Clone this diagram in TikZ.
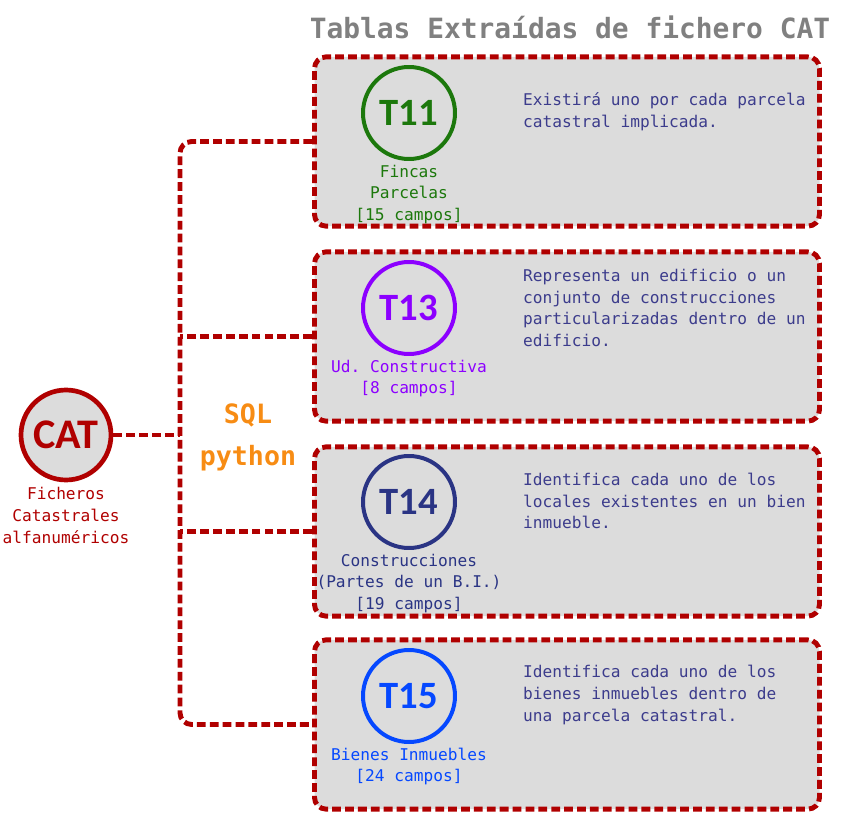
\documentclass[tikz,border=0pt]{standalone}
\usepackage{fontspec}
\setmonofont{DejaVu Sans Mono}
\newfontfamily\carlito{Carlito}
\usetikzlibrary{positioning}

\definecolor{catred}{RGB}{176,0,0}
\definecolor{boxgray}{RGB}{220,220,220}
\definecolor{titlegray}{RGB}{128,128,128}
\definecolor{desctext}{RGB}{60,60,140}
\definecolor{sqlorange}{RGB}{247,140,20}
\definecolor{tgreen}{RGB}{28,120,12}
\definecolor{tpurple}{RGB}{140,0,255}
\definecolor{tnavy}{RGB}{42,52,132}
\definecolor{tblue}{RGB}{5,72,255}

\tikzset{
  link/.style={draw=catred, line width=4.2pt, dash pattern=on 7.5pt off 3.5pt},
  tablebox/.style={link, fill=boxgray, rounded corners=3.5mm, minimum width=151.5mm, minimum height=50.8mm},
  tablecircle/.style={circle, draw=#1, line width=3.4pt, minimum size=27.6mm, text=#1,
    font=\carlito\bfseries\fontsize{33}{33}\selectfont},
  fields/.style={font=\ttfamily\fontsize{13.8}{18.6}\selectfont, align=center, text=#1},
  about/.style={font=\ttfamily\fontsize{13.8}{18.6}\selectfont, align=left, text=desctext, anchor=west},
}

\begin{document}
\begin{tikzpicture}[x=0.3mm, y=-0.3mm, every node/.style={inner sep=0}]
  \useasboundingbox (0,0) rectangle (843,826);

  % Title
  \node[font=\ttfamily\bfseries\fontsize{23.8}{28}\selectfont, text=titlegray] (title) at (570,27)
    {Tablas Extraídas de fichero CAT};

  % Source files
  \node[circle, draw=catred, fill=boxgray, line width=4pt, minimum size=27mm, text=catred,
    font=\carlito\bfseries\fontsize{36}{36}\selectfont] (cat) at (66,435) {CAT};
  \node[fields=catred, below=4pt of cat] (catinfo) {Ficheros\\Catastrales\\alfanuméricos};

  % Tool
  \node[font=\ttfamily\bfseries\fontsize{22.7}{36}\selectfont, text=sqlorange, align=center] (tool) at (248,437)
    {SQL\\python};

  % Tables
  \foreach \tnum/\boxy/\circy/\tcol in {11/141.5/113/tgreen, 13/336.5/308/tpurple,
                                        14/531.5/502/tnavy, 15/724.5/696/tblue} {
    \node[tablebox] (box\tnum) at (567,\boxy) {};
    \node[tablecircle=\tcol] (t\tnum) at (409,\circy) {T\tnum};
  }

  % Table names
  \node[fields=tgreen, below=3pt of t11] (info11) {Fincas\\Parcelas\\{}[15 campos]};
  \node[fields=tpurple, below=3pt of t13] (info13) {Ud. Constructiva\\{}[8 campos]};
  \node[fields=tnavy, below=3pt of t14] (info14) {Construcciones\\(Partes de un B.I.)\\{}[19 campos]};
  \node[fields=tblue, below=3pt of t15] (info15) {Bienes Inmuebles\\{}[24 campos]};

  % Descriptions
  \node[about] (desc11) at (523,112) {Existirá uno por cada parcela\\catastral implicada.};
  \node[about] (desc13) at (523,308) {Representa un edificio o un\\conjunto de construcciones\\particularizadas dentro de un\\edificio.};
  \node[about] (desc14) at (523,501) {Identifica cada uno de los\\locales existentes en un bien\\inmueble.};
  \node[about] (desc15) at (523,695) {Identifica cada uno de los\\bienes inmuebles dentro de\\una parcela catastral.};

  % Connectors
  \coordinate (trunk) at (180,435);
  \draw[link] (cat.east) -- (trunk);
  \draw[link, rounded corners=3.5mm] (box11.west) -| (trunk) |- (box15.west);
  \foreach \tnum in {13,14}
    \draw[link] (box\tnum.west) -- (box\tnum.west -| trunk);
\end{tikzpicture}
\end{document}
